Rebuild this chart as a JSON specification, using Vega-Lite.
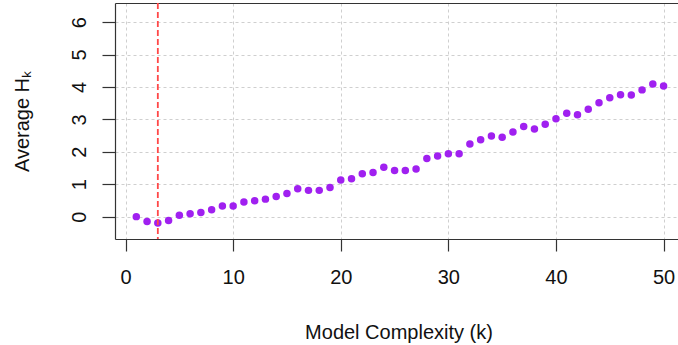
{
  "$schema": "https://vega.github.io/schema/vega-lite/v6.json",
  "autosize": "none",
  "width": 563,
  "height": 236,
  "padding": {"left": 115, "top": 3, "right": 0, "bottom": 106},
  "background": "white",
  "config": {
    "view": {"stroke": null},
    "font": "Liberation Sans",
    "axis": {
      "labelFont": "Liberation Sans",
      "titleFont": "Liberation Sans",
      "labelFontSize": 20,
      "titleFontSize": 20,
      "titleFontWeight": "normal",
      "labelColor": "#111",
      "titleColor": "#111",
      "domainColor": "#333",
      "tickColor": "#333",
      "domainWidth": 1.2,
      "tickWidth": 1.2,
      "gridColor": "#cfcfcf",
      "gridDash": [3, 3],
      "gridWidth": 1,
      "labelFlush": false,
      "labelOverlap": false
    }
  },
  "layer": [
    {
      "data": {
        "values": [
          {"k": 1, "H": 0.00}, {"k": 2, "H": -0.15}, {"k": 3, "H": -0.20}, {"k": 4, "H": -0.12},
          {"k": 5, "H": 0.04}, {"k": 6, "H": 0.09}, {"k": 7, "H": 0.13}, {"k": 8, "H": 0.21},
          {"k": 9, "H": 0.33}, {"k": 10, "H": 0.33}, {"k": 11, "H": 0.45}, {"k": 12, "H": 0.49},
          {"k": 13, "H": 0.54}, {"k": 14, "H": 0.62}, {"k": 15, "H": 0.71}, {"k": 16, "H": 0.86},
          {"k": 17, "H": 0.81}, {"k": 18, "H": 0.81}, {"k": 19, "H": 0.90}, {"k": 20, "H": 1.13},
          {"k": 21, "H": 1.17}, {"k": 22, "H": 1.32}, {"k": 23, "H": 1.36}, {"k": 24, "H": 1.52},
          {"k": 25, "H": 1.42}, {"k": 26, "H": 1.42}, {"k": 27, "H": 1.47}, {"k": 28, "H": 1.79},
          {"k": 29, "H": 1.87}, {"k": 30, "H": 1.94}, {"k": 31, "H": 1.94}, {"k": 32, "H": 2.24},
          {"k": 33, "H": 2.37}, {"k": 34, "H": 2.49}, {"k": 35, "H": 2.45}, {"k": 36, "H": 2.61},
          {"k": 37, "H": 2.78}, {"k": 38, "H": 2.70}, {"k": 39, "H": 2.85}, {"k": 40, "H": 3.02},
          {"k": 41, "H": 3.19}, {"k": 42, "H": 3.14}, {"k": 43, "H": 3.31}, {"k": 44, "H": 3.51},
          {"k": 45, "H": 3.67}, {"k": 46, "H": 3.76}, {"k": 47, "H": 3.75}, {"k": 48, "H": 3.91},
          {"k": 49, "H": 4.09}, {"k": 50, "H": 4.03}
        ]
      },
      "mark": {"type": "circle", "size": 56, "color": "#A020F0", "opacity": 1},
      "encoding": {
        "x": {
          "field": "k", "type": "quantitative",
          "scale": {"domain": [-0.98, 51.34], "nice": false, "zero": false},
          "axis": {
            "orient": "bottom",
            "values": [0, 10, 20, 30, 40, 50],
            "tickSize": 12,
            "labelPadding": 16,
            "labelBaseline": "top",
            "grid": true,
            "title": "Model Complexity (k)",
            "titleX": 283.5,
            "titleY": 99,
            "titleAlign": "center",
            "titleBaseline": "alphabetic"
          }
        },
        "y": {
          "field": "H", "type": "quantitative",
          "scale": {"domain": [-0.69, 6.59], "nice": false, "zero": false},
          "axis": {
            "orient": "left",
            "values": [0, 1, 2, 3, 4, 5, 6],
            "tickSize": 13,
            "labelAngle": -90,
            "labelAlign": "center",
            "labelBaseline": "alphabetic",
            "labelPadding": 17,
            "grid": true,
            "title": "Average Hₖ",
            "titleAngle": -90,
            "titleX": -87,
            "titleY": 118,
            "titleAlign": "center",
            "titleBaseline": "alphabetic"
          }
        }
      }
    },
    {
      "data": {"values": [{"k": 3}]},
      "mark": {"type": "rule", "color": "#FF4848", "strokeDash": [6, 3], "strokeWidth": 1.8},
      "encoding": {
        "x": {
          "field": "k", "type": "quantitative",
          "axis": {"orient": "top", "ticks": false, "labels": false, "grid": false, "title": null, "domain": true}
        }
      }
    }
  ],
  "resolve": {"axis": {"x": "independent"}}
}
